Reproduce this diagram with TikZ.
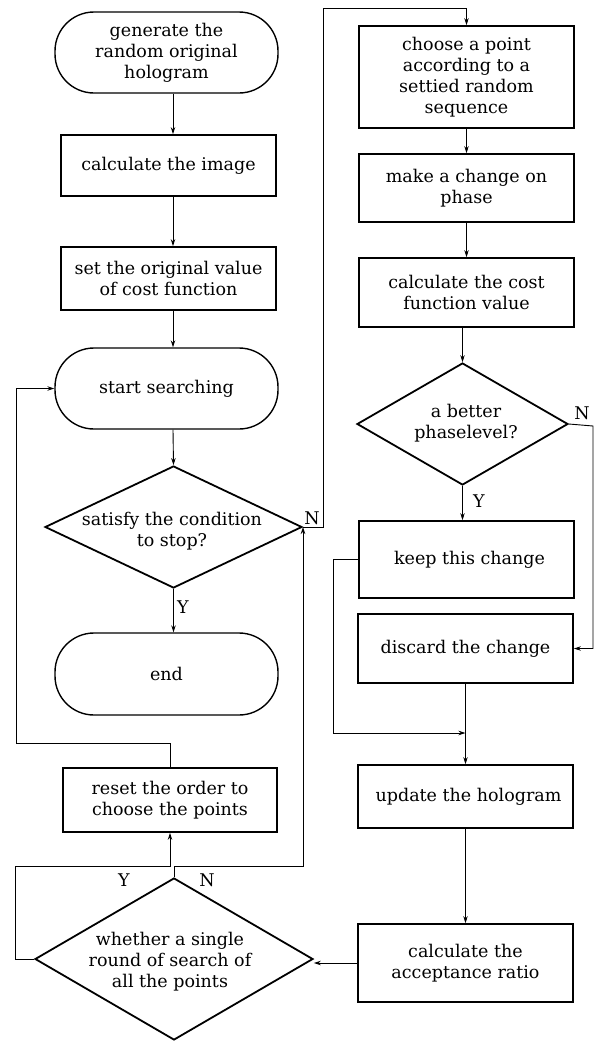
\documentclass[tikz,border=0pt]{standalone}
\usepackage{fontspec}
\setmainfont{DejaVu Serif}
\usetikzlibrary{arrows.meta,shapes.geometric}
\newcommand\figfont{\fontsize{17.5}{21}\selectfont}
\begin{document}
\begin{tikzpicture}[x=1pt,y=-1pt,
  every node/.style={font=\figfont},
  box/.style={draw, line width=1.8pt, minimum width=215, inner sep=0pt, align=center},
  term/.style={draw, line width=1.4pt, rounded corners=39pt, minimum width=223, minimum height=81, inner sep=0pt, align=center},
  dia/.style={draw, line width=1.8pt, shape=diamond, inner sep=0pt},
  txt/.style={align=center, inner sep=0pt},
  lab/.style={inner sep=0pt},
  arr/.style={line width=0.9pt, -{Stealth[length=7pt,width=4.5pt]}},
  ln/.style={line width=0.9pt}]
\useasboundingbox (0,0) rectangle (597,1042);
% left column
\node[term] (n1) at (166.5,52.5) {generate the\\random original\\hologram};
\node[box, minimum height=61] (n2) at (168.5,165.5) {calculate the image};
\node[box, minimum height=63] (n3) at (168.5,278.5) {set the original value\\of cost function};
\node[term] (n4) at (166.5,388.5) {start searching};
\node[dia, minimum width=257, minimum height=122] (n5) at (173.5,527) {};
\node[txt] (t5) at (172,531) {satisfy the condition\\to stop?};
\node[term, minimum height=82] (n6) at (166.5,674) {end};
\node[box, minimum width=214, minimum height=64] (n7) at (170,800) {reset the order to\\choose the points};
\node[dia, minimum width=278, minimum height=162] (n8) at (174,959) {};
\node[txt] (t8) at (170,962) {whether a single\\round of search of\\all the points};
% right column
\node[box, minimum height=102] (r1) at (466.5,77) {choose a point\\according to a\\settied random\\sequence};
\node[box, minimum height=68] (r2) at (466.5,188) {make a change on\\phase};
\node[box, minimum height=69] (r3) at (466.5,292.5) {calculate the cost\\function value};
\node[dia, minimum width=211, minimum height=122] (r4) at (462.5,424) {};
\node[txt] (t4) at (466,423) {a better\\phaselevel?};
\node[box, minimum height=77] (r5) at (466.5,559.5) {\hspace*{6pt}keep this change};
\node[box, minimum height=69] (r6) at (465.5,648.5) {discard the change};
\node[box, minimum height=63] (r7) at (465.5,796.5) {\hspace*{6pt}update the hologram};
\node[box, minimum height=78] (r8) at (465.5,963) {calculate the\\acceptance ratio};
% labels
\node[lab] (y1) at (183,607) {Y};
\node[lab] (nn1) at (312,518) {N};
\node[lab] (y2) at (479,501) {Y};
\node[lab] (nn2) at (582,413) {N};
\node[lab] (y3) at (124,880) {Y};
\node[lab] (nn3) at (207,880) {N};
% helper coordinates
\coordinate (ca) at (173,0);
\coordinate (k1) at (323,8);
\coordinate (k2) at (593,426);
\coordinate (k3) at (333,733);
\coordinate (k4) at (15,866);
\coordinate (k5) at (303,866);
\coordinate (k6) at (16,743);
% left connectors
\draw[arr] (n1.south -| ca) -- (n2.north -| ca);
\draw[arr] (n2.south -| ca) -- (n3.north -| ca);
\draw[arr] (n3.south -| ca) -- (n4.north -| ca);
\draw[arr] (n4.south -| ca) -- (n5.north);
\draw[arr] (n5.south) -- (n6.north -| n5.south);
% N from satisfy to choose
\draw[arr] (n5.east) -- (n5.east -| k1) -- (k1) -- (k1 -| r1.north) -- (r1.north);
% right column connectors
\draw[arr] (r1.south) -- (r2.north);
\draw[arr] (r2.south) -- (r3.north);
\draw[arr] (r3.south -| r4.north) -- (r4.north);
\draw[arr] (r4.south) -- (r5.north -| r4.south);
\draw[arr] (r4.east) -- (k2) -- (k2 |- r6.east) -- (r6.east);
\draw[arr] (r5.west) -- (r5.west -| k3) -- (k3) -- (k3 -| r6.south);
\draw[arr] (r6.south) -- (r7.north);
\draw[arr] (r7.south) -- (r8.north);
\draw[arr] (r8.west) -- (r8.west -| n8.east);
% bottom diamond
\draw[arr] (n8.west) -- (n8.west -| k4) -- (k4) -- (k4 -| n7.south) -- (n7.south);
\draw[arr] (n8.north) -- (n8.north |- k5) -- (k5) -- (n5.east -| k5);
\draw[arr] (n7.north) -- (n7.north |- k6) -- (k6) -- (k6 |- n4.west) -- (n4.west);
\end{tikzpicture}
\end{document}
